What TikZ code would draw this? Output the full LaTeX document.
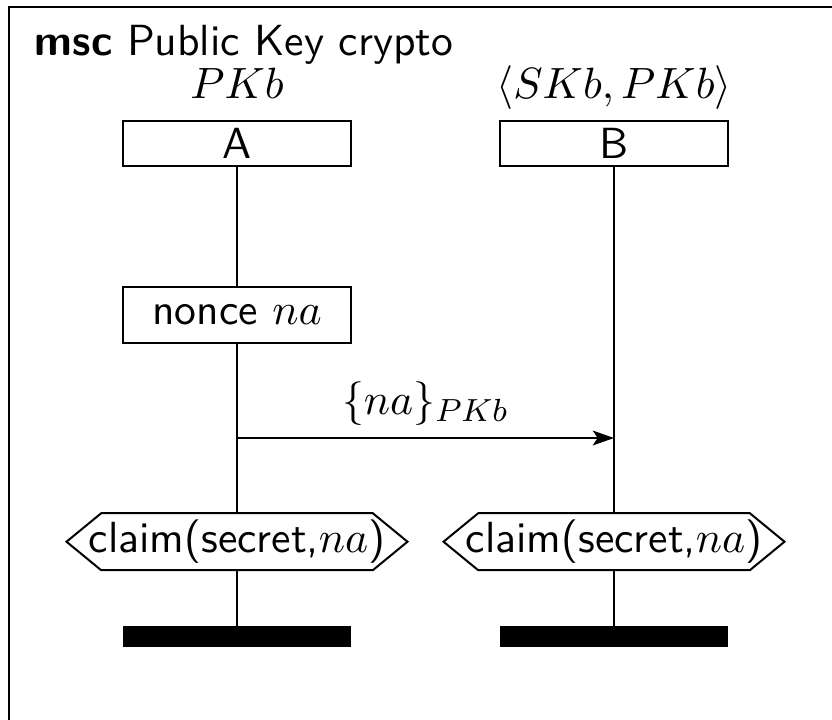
\documentclass[tikz,border=0pt]{standalone}
\usetikzlibrary{arrows.meta}
\begin{document}
\begin{tikzpicture}[x=0.25pt,y=-0.25pt,
  every node/.style={inner sep=0pt,outer sep=0pt,font=\fontsize{10.9}{13}\selectfont\sffamily},
  line width=0.5pt,
  inst/.style={draw,minimum width=57pt,minimum height=11.25pt},
  actbox/.style={draw,minimum width=57pt,minimum height=14pt},
  condslot/.style={minimum width=85.25pt,minimum height=14.25pt},
  endbar/.style={fill=black,minimum width=57pt,minimum height=5.25pt},
  mathtext/.style={anchor=base,font=\fontsize{10.9}{13}\selectfont},
  msgarrow/.style={-{Stealth[length=5.3pt,width=3.7pt,inset=1.2pt]}}]
\useasboundingbox (0,0) rectangle (832,719);
% outer frame (continues past the page on the right and bottom)
\coordinate (frameTL) at (9,7);
\coordinate (frameTR) at (840,7);
\coordinate (frameBL) at (9,730);
\draw[line width=0.6pt] (frameBL) -- (frameTL) -- (frameTR);
% title
\node[anchor=base west] (title) at (35,55) {\textbf{msc} Public Key crypto};
% instance heads with their initial knowledge
\node[mathtext] (knowA) at (237,98) {$PKb$};
\node[mathtext] (knowB) at (614,98) {$\langle SKb, PKb\rangle$};
\node[inst] (A) at (237,143.5) {A};
\node[inst] (B) at (614,143.5) {B};
% action
\node[actbox] (nonce) at (237,315) {nonce $na$};
% claims (hexagonal conditions)
\node[condslot] (claimA) at (237,541.7) {claim(secret,$na$)};
\node[condslot] (claimB) at (614,541.7) {claim(secret,$na$)};
\foreach \c in {claimA,claimB}{
  \draw (\c.west) -- ([xshift=8.675pt]\c.north west) -- ([xshift=-8.675pt]\c.north east)
        -- (\c.east) -- ([xshift=-8.675pt]\c.south east) -- ([xshift=8.675pt]\c.south west) -- cycle;
}
% instance ends
\node[endbar] (endA) at (237,636.5) {};
\node[endbar] (endB) at (614,636.5) {};
% lifelines
\draw (A) -- (nonce);
\draw (nonce) -- (claimA);
\draw (claimA) -- (endA);
\draw (B) -- (claimB);
\draw (claimB) -- (endB);
% message
\coordinate (msgy) at (0,438);
\draw[msgarrow] (A |- msgy) -- (B |- msgy);
\node[mathtext] (msglabel) at (425.5,414) {$\{na\}_{PKb}$};
\end{tikzpicture}
\end{document}
